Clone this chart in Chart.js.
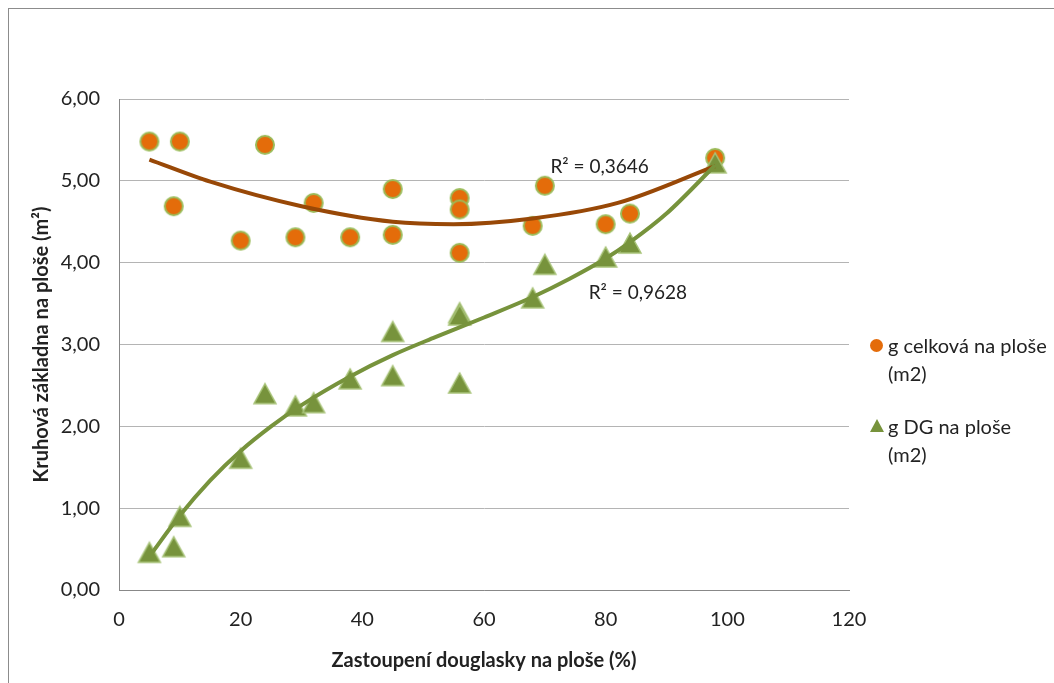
<!DOCTYPE html>
<html>
<head>
<meta charset="utf-8">
<script src="https://cdn.jsdelivr.net/npm/chart.js@4"></script>
<style>
  html, body { margin: 0; padding: 0; background: #fff; }
  #wrap { position: relative; width: 1054px; height: 683px; overflow: hidden; font-family: Lato, sans-serif; }
  #frame { position: absolute; left: 8px; top: 8px; width: 1100px; height: 700px; border: 1px solid #8c8c8c; }
  #chart { position: absolute; left: 0; top: 0; }
  .legend { position: absolute; left: 866px; font-size: 20px; color: #222; line-height: 28px; }
  .legend .row { position: relative; padding-left: 22px; }
  .legend .dot { position: absolute; left: 4px; top: 8px; width: 13px; height: 13px; border-radius: 50%; background: #e46c0a; }
  .legend .tri { position: absolute; left: 4px; top: 7px; width: 0; height: 0;
    border-left: 7px solid transparent; border-right: 7px solid transparent; border-bottom: 13px solid #77933c; }
</style>
</head>
<body>
<div id="wrap">
  <div id="frame"></div>
  <canvas id="chart" width="1054" height="683"></canvas>
  <div class="legend" style="top:331px">
    <div class="row"><span class="dot"></span>g celková na ploše</div>
    <div class="row">(m2)</div>
  </div>
  <div class="legend" style="top:412px">
    <div class="row"><span class="tri"></span>g DG na ploše</div>
    <div class="row">(m2)</div>
  </div>
</div>
<script>
/* ===== DATA ===== */
const shareDG = [5, 9, 10, 20, 24, 29, 32, 38, 45, 45, 56, 56, 56, 68, 70, 80, 84, 98];
const gTotal = [5.48, 4.69, 5.48, 4.27, 5.44, 4.31, 4.73, 4.31, 4.90, 4.34, 4.79, 4.65, 4.12, 4.45, 4.94, 4.47, 4.60, 5.28];
const gDG = [0.46, 0.53, 0.90, 1.61, 2.40, 2.25, 2.29, 2.58, 3.16, 2.62, 3.39, 3.36, 2.53, 3.57, 3.98, 4.07, 4.24, 5.22];

// trend lines
const trendTotalX = [5, 15, 30, 45, 55, 68, 82, 98];
const trendTotalY = [5.26, 4.99, 4.69, 4.50, 4.47, 4.54, 4.73, 5.18];
const trendDGX = [5, 10, 15, 20, 25, 30, 38, 45, 52, 60, 68, 74, 80, 84, 90, 98];
const trendDGY = [0.41, 0.91, 1.34, 1.70, 2.00, 2.26, 2.61, 2.87, 3.09, 3.33, 3.58, 3.80, 4.05, 4.25, 4.60, 5.19];

const r2Labels = [
  { text: "R² = 0,3646", x: 79, y: 5.17 },
  { text: "R² = 0,9628", x: 85.3, y: 3.63 },
];

const xTitle = "Zastoupení douglasky na ploše (%)";
const yTitle = "Kruhová základna na ploše (m²)";

/* ===== HELPERS ===== */
const pts = (xs, ys) => xs.map((x, i) => ({ x: x, y: ys[i] }));
const fmt = (v) => v.toFixed(2).replace(".", ",");

function circleMarker() {
  const c = document.createElement("canvas");
  c.width = 22; c.height = 22;
  const g = c.getContext("2d");
  g.beginPath();
  g.arc(11, 11, 9, 0, Math.PI * 2);
  g.fillStyle = "#e46c0a";
  g.fill();
  g.lineWidth = 2;
  g.strokeStyle = "#9bbb59";
  g.stroke();
  return c;
}

function triangleMarker() {
  const c = document.createElement("canvas");
  c.width = 26; c.height = 24;
  const g = c.getContext("2d");
  g.beginPath();
  g.moveTo(13, 2);
  g.lineTo(24, 22);
  g.lineTo(2, 22);
  g.closePath();
  g.fillStyle = "#77933c";
  g.fill();
  g.lineWidth = 1.5;
  g.strokeStyle = "#a9c47a";
  g.stroke();
  return c;
}

const r2Plugin = {
  id: "r2",
  afterDatasetsDraw(chart) {
    const { ctx, scales } = chart;
    ctx.save();
    ctx.font = "19px Lato";
    ctx.fillStyle = "#222";
    ctx.textAlign = "center";
    ctx.textBaseline = "middle";
    r2Labels.forEach((l) => {
      ctx.fillText(l.text, scales.x.getPixelForValue(l.x), scales.y.getPixelForValue(l.y));
    });
    ctx.restore();
  },
};

/* ===== CHART ===== */
new Chart(document.getElementById("chart"), {
  type: "scatter",
  data: {
    datasets: [
      {
        data: pts(trendDGX, trendDGY),
        showLine: true,
        borderColor: "#77933c",
        borderWidth: 4,
        pointRadius: 0,
        cubicInterpolationMode: "monotone",
      },
      {
        data: pts(trendTotalX, trendTotalY),
        showLine: true,
        borderColor: "#984807",
        borderWidth: 4,
        pointRadius: 0,
        cubicInterpolationMode: "monotone",
      },
      {
        label: "g DG na ploše (m2)",
        data: pts(shareDG, gDG),
        pointStyle: triangleMarker(),
      },
      {
        label: "g celková na ploše (m2)",
        data: pts(shareDG, gTotal),
        pointStyle: circleMarker(),
      },
    ],
  },
  options: {
    responsive: false,
    animation: false,
    layout: { padding: { top: 99, right: 205, left: 0, bottom: 0 } },
    plugins: { legend: { display: false }, tooltip: { enabled: false } },
    scales: {
      x: {
        min: 0,
        max: 120,
        ticks: { stepSize: 20, padding: 18, color: "#222", font: { family: "Lato", size: 20 } },
        grid: { display: false, drawTicks: false },
        border: { display: true, color: "#888", width: 1 },
        title: { display: true, text: xTitle, color: "#222", padding: 10, font: { family: "Lato", size: 20, weight: "bold" } },
        afterFit: (s) => { s.height = 93; },
      },
      y: {
        min: 0,
        max: 6,
        ticks: { stepSize: 1, padding: 19, color: "#222", callback: fmt, font: { family: "Lato", size: 20 } },
        grid: { color: "#b4b4b4", drawTicks: false },
        border: { display: true, color: "#888", width: 1 },
        title: { display: true, text: yTitle, color: "#222", padding: 30, font: { family: "Lato", size: 20, weight: "bold" } },
        afterFit: (s) => { s.width = 119; },
      },
    },
  },
  plugins: [r2Plugin],
});
</script>
</body>
</html>
